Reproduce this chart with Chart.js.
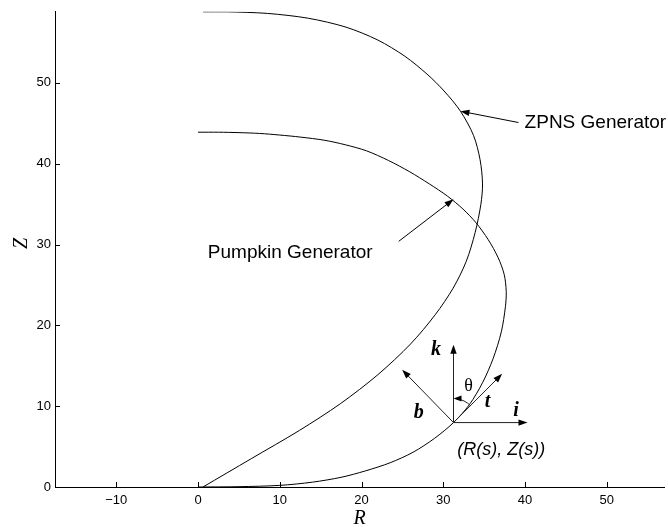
<!DOCTYPE html>
<html>
<head>
<meta charset="utf-8">
<script src="https://cdn.jsdelivr.net/npm/chart.js@4.4.0/dist/chart.umd.min.js"></script>
<style>
  html, body { margin: 0; padding: 0; background: #fff; }
  #wrap { width: 668px; height: 527px; position: relative; }
</style>
</head>
<body>
<div id="wrap"><canvas id="genChart"></canvas></div>
<script>
// axis setup
const xTicks = [-10, 0, 10, 20, 30, 40, 50];
const yTicks = [0, 10, 20, 30, 40, 50];
const xMin = -17.5, xMax = 57;
const yMin = 0, yMax = 58.8;

// ZPNS generator (R, Z), bottom to top
const zpnsR = [0.6, 6.5, 12.4, 17.4, 22.0, 26.0, 29.0, 31.2, 32.8, 33.9, 34.6, 34.8, 34.5, 33.7, 32.1, 30.1, 28.0, 25.3, 22.0, 18.1, 13.5, 8.5, 3.5, 0.6];
const zpnsZ = [0.0, 3.5, 7.0, 10.3, 13.9, 17.7, 21.3, 24.6, 27.9, 31.5, 35.0, 37.5, 40.5, 43.5, 46.5, 49.0, 51.1, 53.3, 55.3, 56.9, 58.0, 58.6, 58.8, 58.8];

// Pumpkin generator (R, Z), bottom to top
const pumpkinR = [0.0, 5.0, 10.0, 14.0, 17.5, 20.5, 23.5, 26.3, 28.9, 31.25, 33.2, 34.8, 36.1, 37.1, 37.6, 37.7, 37.45, 36.7, 35.5, 34.0, 32.4, 30.5, 28.3, 25.9, 23.3, 20.6, 18.0, 15.5, 12.5, 10.0, 7.5, 5.0, 2.5, 0.0];
const pumpkinZ = [0.0, 0.04, 0.2, 0.6, 1.2, 2.0, 3.0, 4.3, 6.0, 7.97, 10.2, 12.9, 15.9, 19.2, 22.3, 24.2, 26.3, 28.4, 30.6, 32.7, 34.4, 36.0, 37.5, 39.0, 40.4, 41.6, 42.35, 42.9, 43.3, 43.55, 43.75, 43.85, 43.9, 43.9];

// local frame at (R(s), Z(s))
const basePoint = [31.25, 7.97];
const vecNames = ["k", "b", "t", "i"];
const vecTips = [[31.25, 17.6], [24.97, 14.5], [37.2, 14.0], [40.3, 7.97]];
const vecLabelPos = [[29.1, 17.0], [27.0, 9.2], [35.4, 10.6], [38.9, 9.4]];
const thetaPos = [33.1, 12.5];
const pointLabel = "(R(s), Z(s))";
const pointLabelPos = [37.1, 4.6];

// curve name labels and their pointers
const curveNames = ["ZPNS Generator", "Pumpkin Generator"];
const curveNamePos = [[39.95, 45.1], [1.2, 29.0]];
const pointerFrom = [[39.2, 45.1], [24.55, 30.4]];
const pointerTo = [[32.1, 46.5], [31.25, 35.6]];

const toXY = (rs, zs) => rs.map((r, i) => ({ x: r, y: zs[i] }));

function drawArrow(ctx, x1, y1, x2, y2, len = 9, half = 3.2) {
    const a = Math.atan2(y2 - y1, x2 - x1);
    ctx.beginPath();
    ctx.moveTo(x1, y1);
    ctx.lineTo(x2 - Math.cos(a) * len * 0.6, y2 - Math.sin(a) * len * 0.6);
    ctx.stroke();
    ctx.beginPath();
    ctx.moveTo(x2, y2);
    ctx.lineTo(x2 - Math.cos(a) * len - Math.sin(a) * half, y2 - Math.sin(a) * len + Math.cos(a) * half);
    ctx.lineTo(x2 - Math.cos(a) * len + Math.sin(a) * half, y2 - Math.sin(a) * len - Math.cos(a) * half);
    ctx.closePath();
    ctx.fill();
}

const annotations = {
    id: "annotations",
    afterDatasetsDraw(chart) {
        const { ctx, chartArea: ca, scales: { x, y } } = chart;
        const px = v => x.getPixelForValue(v);
        const py = v => y.getPixelForValue(v);
        ctx.save();

        // inward tick marks
        ctx.strokeStyle = "#000";
        ctx.lineWidth = 1;
        ctx.beginPath();
        xTicks.forEach(v => { const X = Math.round(px(v)) + 0.5; ctx.moveTo(X, ca.bottom); ctx.lineTo(X, ca.bottom - 5); });
        yTicks.forEach(v => { if (v === 0) return; const Y = Math.round(py(v)) + 0.5; ctx.moveTo(ca.left, Y); ctx.lineTo(ca.left + 5, Y); });
        ctx.stroke();

        // curve name pointers
        ctx.fillStyle = "#000";
        pointerFrom.forEach((f, i) => {
            drawArrow(ctx, px(f[0]), py(f[1]), px(pointerTo[i][0]), py(pointerTo[i][1]));
        });
        ctx.font = "19px 'Liberation Sans', Arial, sans-serif";
        ctx.textBaseline = "middle";
        ctx.textAlign = "left";
        curveNames.forEach((t, i) => ctx.fillText(t, px(curveNamePos[i][0]), py(curveNamePos[i][1])));

        // frame vectors
        const bx = px(basePoint[0]), by = py(basePoint[1]);
        ctx.strokeStyle = "#222";
        ctx.fillStyle = "#000";
        vecTips.forEach(t => drawArrow(ctx, bx, by, px(t[0]), py(t[1])));

        // theta arc from t to k
        const tA = Math.atan2(py(vecTips[2][1]) - by, px(vecTips[2][0]) - bx);
        const r = 24;
        ctx.beginPath();
        ctx.arc(bx, by, r, tA, -Math.PI / 2 + 0.12, true);
        ctx.stroke();
        const ex = bx, ey = by - r;
        ctx.beginPath();
        ctx.moveTo(ex, ey);
        ctx.lineTo(ex + 8, ey - 3);
        ctx.lineTo(ex + 8, ey + 3);
        ctx.closePath();
        ctx.fill();

        ctx.textAlign = "center";
        ctx.font = "bold italic 20px 'Liberation Serif', 'Times New Roman', serif";
        vecNames.forEach((n, i) => ctx.fillText(n, px(vecLabelPos[i][0]), py(vecLabelPos[i][1])));
        ctx.font = "18px 'Liberation Serif', 'Times New Roman', serif";
        ctx.fillText("\u03b8", px(thetaPos[0]), py(thetaPos[1]));
        ctx.font = "italic 18px 'Liberation Sans', Arial, sans-serif";
        ctx.fillText(pointLabel, px(pointLabelPos[0]), py(pointLabelPos[1]));

        // axis titles
        ctx.font = "italic 20px 'Liberation Serif', 'Times New Roman', serif";
        ctx.fillText("R", (ca.left + ca.right) / 2, ca.bottom + 32);
        ctx.save();
        ctx.translate(22, (ca.top + ca.bottom) / 2 - 6);
        ctx.rotate(-Math.PI / 2);
        ctx.fillText("Z", 0, 0);
        ctx.restore();

        ctx.restore();
    }
};

const tickFont = { family: "'Liberation Sans', Arial, sans-serif", size: 13 };

new Chart(document.getElementById("genChart"), {
    type: "scatter",
    data: {
        datasets: [
            { label: "ZPNS Generator", data: toXY(zpnsR, zpnsZ) },
            { label: "Pumpkin Generator", data: toXY(pumpkinR, pumpkinZ) }
        ].map(d => Object.assign(d, {
            showLine: true, pointRadius: 0, borderColor: "#000", borderWidth: 1, tension: 0.3, fill: false
        }))
    },
    options: {
        responsive: true,
        maintainAspectRatio: false,
        animation: false,
        layout: { padding: { top: 7, right: 4, left: 0, bottom: 0 } },
        plugins: { legend: { display: false }, tooltip: { enabled: false } },
        scales: {
            x: {
                type: "linear", min: xMin, max: xMax,
                grid: { display: false, drawTicks: false },
                border: { display: true, color: "#000", width: 1 },
                afterBuildTicks: s => { s.ticks = xTicks.map(v => ({ value: v })); },
                afterFit: s => { s.height = 40; },
                ticks: {
                    color: "#000", font: tickFont, padding: 6, maxRotation: 0,
                    callback: v => v < 0 ? "\u2212" + Math.abs(v) : String(v)
                }
            },
            y: {
                type: "linear", min: yMin, max: yMax,
                grid: { display: false, drawTicks: false },
                border: { display: true, color: "#000", width: 1 },
                afterBuildTicks: s => { s.ticks = yTicks.map(v => ({ value: v })); },
                afterFit: s => { s.width = 55; },
                ticks: { color: "#000", font: tickFont, padding: 4 }
            }
        }
    },
    plugins: [annotations]
});
</script>
</body>
</html>
